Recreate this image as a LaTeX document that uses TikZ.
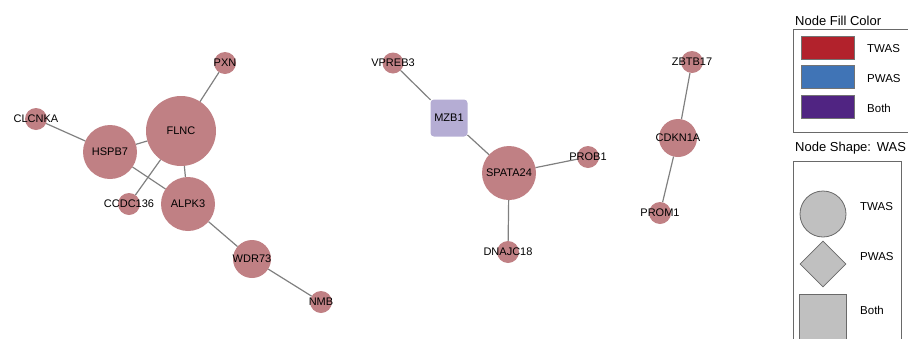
\documentclass[tikz,border=0pt]{standalone}
\usepackage{fontspec}
\setmainfont{Liberation Sans}
\usetikzlibrary{shapes.geometric,backgrounds,positioning}
\definecolor{genefill}{RGB}{192,128,132}
\definecolor{bothfill}{RGB}{181,173,212}
\definecolor{edgegray}{RGB}{128,128,128}
\definecolor{twasred}{RGB}{178,34,44}
\definecolor{pwasblue}{RGB}{64,116,182}
\definecolor{bothpurple}{RGB}{80,36,130}
\definecolor{keygray}{RGB}{192,192,192}
\definecolor{framegray}{RGB}{105,105,105}
\newcommand{\genefont}{\fontsize{11}{13}\selectfont}
\newcommand{\keyfont}{\fontsize{11.5}{13}\selectfont}
\newcommand{\keytitlefont}{\fontsize{13}{15}\selectfont}
\tikzset{
  gene/.style={circle, fill=genefill, inner sep=0pt, outer sep=0pt},
  genebox/.style={rectangle, rounded corners=3.5pt, fill=bothfill, inner sep=0pt, outer sep=0pt},
  every label/.style={font=\genefont, inner sep=0pt},
  link/.style={draw=edgegray, line width=1.2pt},
  keyframe/.style={draw=framegray, line width=0.8pt},
  swatch/.style={rectangle, draw=black!55, line width=0.6pt, minimum width=53pt, minimum height=23pt},
  keyshape/.style={fill=keygray, draw=framegray, line width=0.8pt, inner sep=0pt},
  keylabel/.style={font=\keyfont, anchor=west, inner sep=0pt},
  keytitle/.style={font=\keytitlefont, anchor=base west, inner sep=0pt}
}

\begin{document}
\begin{tikzpicture}[x=1pt,y=-1pt]
  \useasboundingbox (0,0) rectangle (908,338);

  % first component
  \node[gene, minimum size=70pt, label={center:FLNC}] (FLNC) at (181,131) {};
  \node[gene, minimum size=54pt, label={center:HSPB7}] (HSPB7) at (110,152) {};
  \node[gene, minimum size=54pt, label={center:ALPK3}] (ALPK3) at (188,204) {};
  \node[gene, minimum size=22pt, label={center:PXN}] (PXN) at (225,63) {};
  \node[gene, minimum size=22pt, label={center:CLCNKA}] (CLCNKA) at (36,119) {};
  \node[gene, minimum size=22pt, label={center:CCDC136}] (CCDC136) at (129,204) {};
  \node[gene, minimum size=38pt, label={center:WDR73}] (WDR73) at (252,259) {};
  \node[gene, minimum size=22pt, label={center:NMB}] (NMB) at (321,302) {};

  % second component
  \node[gene, minimum size=21pt, label={center:VPREB3}] (VPREB3) at (393,63) {};
  \node[genebox, minimum size=37pt, label={center:MZB1}] (MZB1) at (449,118) {};
  \node[gene, minimum size=54pt, label={center:SPATA24}] (SPATA24) at (509,173) {};
  \node[gene, minimum size=22pt, label={center:PROB1}] (PROB1) at (588,157) {};
  \node[gene, minimum size=22pt, label={center:DNAJC18}] (DNAJC18) at (508,252) {};

  % third component
  \node[gene, minimum size=22pt, label={center:ZBTB17}] (ZBTB17) at (692,62) {};
  \node[gene, minimum size=38pt, label={center:CDKN1A}] (CDKN1A) at (678,138) {};
  \node[gene, minimum size=22pt, label={center:PROM1}] (PROM1) at (660,213) {};

  \begin{scope}[on background layer]
    \foreach \a/\b in {PXN/FLNC, CLCNKA/HSPB7, HSPB7/FLNC, FLNC/ALPK3, FLNC/CCDC136,
                       HSPB7/ALPK3, ALPK3/WDR73, WDR73/NMB, VPREB3/MZB1, MZB1/SPATA24,
                       SPATA24/PROB1, SPATA24/DNAJC18, ZBTB17/CDKN1A, CDKN1A/PROM1}
      \draw[link] (\a) -- (\b);
  \end{scope}

  % legend: fill colour
  \node[keytitle] (filltitle) at (795,25) {Node Fill Color};
  \draw[keyframe] (793,29) rectangle (912,132);
  \node[swatch, fill=twasred] (redkey) at (827.5,47.5) {};
  \node[swatch, fill=pwasblue] (bluekey) at (827.5,77) {};
  \node[swatch, fill=bothpurple] (purplekey) at (827.5,106.5) {};
  \node[keylabel] (twasfill) at (867,49) {TWAS};
  \node[keylabel] (pwasfill) at (867,78.5) {PWAS};
  \node[keylabel] (bothfillkey) at (867,108) {Both};

  % legend: shape
  \node[keytitle] (shapetitle) at (795,151.5) {Node Shape:\ \,WAS};
  \draw[keyframe] (793,161) rectangle (901,350);
  \node[keyshape, circle, minimum size=46pt] (circlekey) at (823,214) {};
  \node[keyshape, diamond, minimum size=46pt] (diamondkey) at (823,264) {};
  \node[keyshape, rectangle, minimum size=47pt] (squarekey) at (823,317.5) {};
  \node[keylabel] (twasshape) at (860,207) {TWAS};
  \node[keylabel] (pwasshape) at (860,257) {PWAS};
  \node[keylabel] (bothshape) at (860,310) {Both};
\end{tikzpicture}
\end{document}
